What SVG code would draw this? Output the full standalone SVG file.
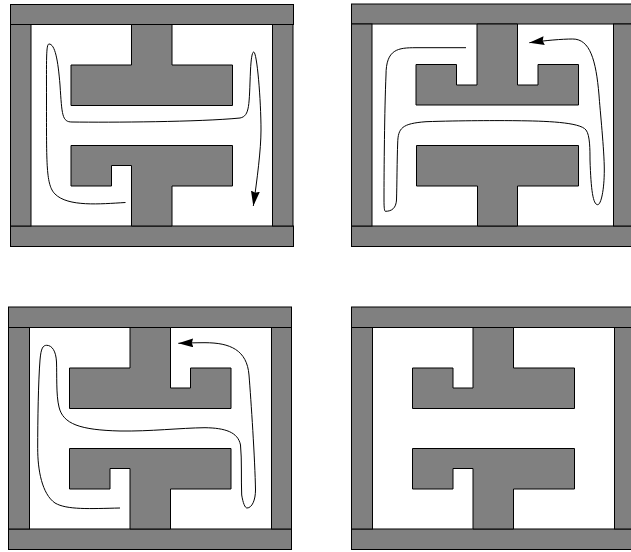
<svg xmlns="http://www.w3.org/2000/svg" width="631" height="552" viewBox="0 0 631 552">
<style>
.s{fill:#808080;stroke:#000;stroke-width:1}
.c{fill:none;stroke:#000;stroke-width:1;marker-end:url(#a)}
</style>
<defs><marker id="a" markerUnits="userSpaceOnUse" markerWidth="17" markerHeight="10" refX="15" refY="4.5" orient="auto"><path d="M0 0L15 4.5L0 9L1.5 4.5Z" fill="#000"/></marker></defs>
<rect width="631" height="552" fill="#fff"/>
<g id="panel-1">
<rect class="s" x="10.5" y="4.5" width="283" height="20"/><rect class="s" x="10.5" y="226" width="283" height="20.5"/>
<rect class="s" x="10.5" y="24.5" width="20.5" height="201.5"/><rect class="s" x="272.5" y="24.5" width="20.5" height="201.5"/>
<path class="s" d="M131.5 24.5V65H71V105.5H232.5V65H172V24.5Z"/>
<path class="s" d="M131.5 226V165.5H111.5V186H71V145.5H232.5V186H172V226Z"/>
</g>
<g id="panel-2">
<rect class="s" x="351.5" y="4" width="290" height="20"/><rect class="s" x="351.5" y="226" width="290" height="20.5"/>
<rect class="s" x="351.5" y="24" width="20.5" height="202"/><rect class="s" x="613.5" y="24" width="30" height="202"/>
<path class="s" d="M477 24V85H456.5V64.5H416V105H578.5V64.5H538V85H517.5V24Z"/>
<path class="s" d="M477.5 226V186H416.5V145.5H578.5V186H517.5V226Z"/>
</g>
<g id="panel-3">
<rect class="s" x="8.5" y="307" width="283" height="20.5"/><rect class="s" x="8.5" y="529" width="283" height="20.5"/>
<rect class="s" x="8.5" y="327.5" width="21" height="201.5"/><rect class="s" x="271.5" y="327.5" width="20" height="201.5"/>
<path class="s" d="M130 327.5V368H69.5V408.5H231V368H190.5V388H170.5V327.5Z"/>
<path class="s" d="M130 529V468.5H110V489H69.5V448.5H231V489H170.5V529Z"/>
</g>
<g id="panel-4">
<rect class="s" x="351.5" y="307" width="290" height="20.5"/><rect class="s" x="351.5" y="529" width="290" height="20.5"/>
<rect class="s" x="351.5" y="327.5" width="21" height="201.5"/><rect class="s" x="614.5" y="327.5" width="30" height="201.5"/>
<path class="s" d="M473 327.5V388H453V368H412.5V408.5H574.5V368H513.5V327.5Z"/>
<path class="s" d="M473 529V468.5H453V489H412.5V448.5H574.5V489H513.5V529Z"/>
</g>
<g id="connectors">
<path class="c" d="M125.5 202.5C100 204 68 207 55 194C46 185 46.5 165 46.5 100C46.5 60 46 44 49 44C55 44 58 60 60 85C62 115 62 122 72 122C110 122.5 200 122 240 118C250 116 249 105 250.5 70C251 60 252 52 253.7 52C257 52 261 100 261 130C261 150 257 180 253.3 206"/>
<path class="c" d="M466 47.7L416 47.7C398 47.7 386 49 386 75C384.5 110 384 170 384 200C384 208 384.5 211.3 385.3 211.3C392 211.3 396 208 396.5 200C397 185 397 160 397.7 143C398 128 402 123.5 426 121.7C460 120.5 500 120.5 516 120.7C545 121 580 122 586 130C590 135 590 150 590 160C591 190 593 204.7 597.7 204.7C601 204.7 604.3 190 604.3 170C604.3 150 600 110 599 95C596 60 590 39 572.7 39C562 39 545 40.5 529.3 42.7"/>
<path class="c" d="M120 508C90 508.7 66.7 510 55 503C42 494 37.7 470 37.7 448.7C37.7 420 38.3 382 40 360C41 348 43 345.3 46.7 345.3C52 345.3 56 351 56.5 362C57 375 56 395 59 407C63 424 80 430 120 431C150 431.5 180 428 205 427.7C225 428 238 432 240.5 445C242 460 241 480 241.7 495C243 503 245 508 247 508C252 508 255.5 500 255.5 490C255 460 251 400 249 375C247 350 230 342.7 205 342.7C195 342.7 188 343 178.3 343.3"/>
</g>
</svg>
